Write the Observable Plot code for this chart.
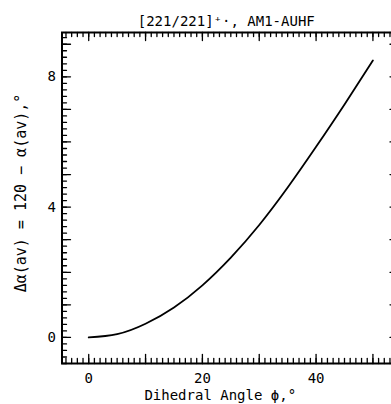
<!DOCTYPE html>
<html><head><meta charset="utf-8">
<script src="https://cdn.jsdelivr.net/npm/d3@7"></script>
<script src="https://cdn.jsdelivr.net/npm/@observablehq/plot@0.6"></script>
<style>html,body{margin:0;padding:0;background:#fff;overflow:hidden;width:391px;height:404px}#chart svg{display:block;max-width:none !important}</style>
</head><body><div id="chart"></div>
<script>
// Data
const dihedralAngle = [0, 5, 10, 15, 20, 25, 30, 35, 40, 45, 50];
const deltaAlpha = [0, 0.1, 0.42, 0.92, 1.6, 2.45, 3.45, 4.6, 5.85, 7.15, 8.5];
const xTickLabels = [0, 20, 40];
const yTickLabels = [0, 4, 8];
const xMinorTicks = d3.range(-4, 55, 1);
const xMajorTicks = [0, 10, 20, 30, 40, 50];
const yMinorTicks = d3.range(-4, 47).map(i => i / 5);
const yMediumTicks = [0, 1, 2, 3, 4, 5, 6, 7, 8, 9];
const titleText = "[221/221]⁺·, AM1-AUHF";
const xLabel = "Dihedral Angle ϕ,°";
const yLabel = "Δα(av) = 120 − α(av),°";

const data = dihedralAngle.map((x, i) => ({x, y: deltaAlpha[i]}));
const tickShape = {draw(ctx, l) { ctx.moveTo(0, 0); ctx.lineTo(0, -l); }};
const font = "DejaVu Sans Mono";

function ticks(values, dim, anchor, rotate, length, sw = 1.3) {
  return Plot.vector(values, {[dim]: d => d, frameAnchor: anchor, rotate, length, anchor: "start", shape: tickShape, stroke: "#000", strokeWidth: sw});
}

const chart = Plot.plot({
  width: 398, height: 404,
  marginLeft: 61.5, marginRight: 0, marginTop: 32, marginBottom: 41,
  style: {fontFamily: font, background: "#fff", color: "#000"},
  x: {domain: [-4.7, 54.5], axis: null},
  y: {domain: [-0.8, 9.36], axis: null},
  marks: [
    ticks(xMinorTicks, "x", "bottom", 0, 5),
    ticks(xMajorTicks, "x", "bottom", 0, 9),
    ticks(xMinorTicks, "x", "top", 180, 4),
    ticks(xMajorTicks, "x", "top", 180, 8),
    ticks(yMinorTicks, "y", "left", 90, 4.5),
    ticks(yMediumTicks, "y", "left", 90, 8.5),
    ticks(yMinorTicks, "y", "right", -90, 4.5),
    ticks(yMediumTicks, "y", "right", -90, 8.5),
    Plot.frame({stroke: "#000", strokeWidth: 2}),
    Plot.line(data, {x: "x", y: "y", curve: "natural", stroke: "#000", strokeWidth: 1.8}),
    Plot.text(xTickLabels, {x: d => d, frameAnchor: "bottom", dy: 15, lineAnchor: "middle", fontSize: 14, fontFamily: font}),
    Plot.text(yTickLabels, {y: d => d, frameAnchor: "left", dx: -6, textAnchor: "end", lineAnchor: "middle", fontSize: 14, fontFamily: font}),
    Plot.text([xLabel], {frameAnchor: "bottom", dy: 32, dx: -10, lineAnchor: "middle", textAnchor: "middle", fontSize: 14, fontFamily: font}),
    Plot.text([yLabel], {frameAnchor: "left", dx: -41, dy: -5, rotate: -90, textAnchor: "middle", lineAnchor: "middle", fontSize: 15, fontFamily: font}),
    Plot.text([titleText], {frameAnchor: "top", dy: -11, dx: -4, textAnchor: "middle", lineAnchor: "middle", fontSize: 14, fontFamily: font})
  ]
});
document.getElementById("chart").append(chart);
</script>
</body></html>
